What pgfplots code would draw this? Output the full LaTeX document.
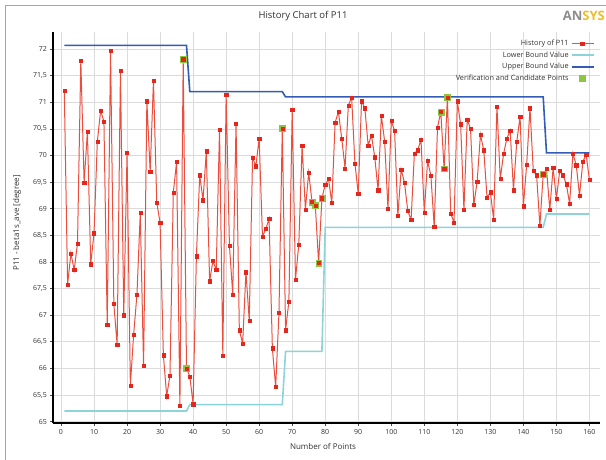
\documentclass[border=0pt]{standalone}
\usepackage{fontspec}
\setmainfont{Open Sans}
\usepackage{pgfplots}
\pgfplotsset{compat=1.18}
\pgfplotsset{
  widelegend/.style={legend image code/.code={\draw[mark repeat=2,mark phase=2,##1] plot coordinates {(0pt,0pt) (11pt,0pt) (22pt,0pt)};}},
  marklegend/.style={legend image code/.code={\draw[##1] plot coordinates {(11pt,0pt)};}},
}
\definecolor{histline}{RGB}{236,78,62}
\definecolor{histmark}{RGB}{228,38,28}
\definecolor{lowb}{RGB}{140,212,218}
\definecolor{upb}{RGB}{52,92,182}
\definecolor{candg}{RGB}{140,198,63}
\definecolor{txt}{RGB}{50,50,50}
\definecolor{logoy}{RGB}{238,190,40}
\pgfplotstableread{
n v
1 71.22
2 67.58
3 68.16
4 67.85
5 68.35
6 71.78
7 69.49
8 70.45
9 67.96
10 68.54
11 70.26
12 70.84
13 70.64
14 66.82
15 71.97
16 67.21
17 66.44
18 71.59
19 67.00
20 70.05
21 65.68
22 66.64
23 67.39
24 68.92
25 66.05
26 71.02
27 69.70
28 71.40
29 69.11
30 68.74
31 66.25
32 65.48
33 65.87
34 69.30
35 69.88
36 65.30
37 71.81
38 66.00
39 65.85
40 65.33
41 68.11
42 69.63
43 69.16
44 70.08
45 67.64
46 68.02
47 67.85
48 70.49
49 66.24
50 71.15
51 68.31
52 67.39
53 70.60
54 66.72
55 66.47
56 67.81
57 66.90
58 69.96
59 69.80
60 70.32
61 68.48
62 68.62
63 68.81
64 66.38
65 65.65
66 67.05
67 70.51
68 66.72
69 67.26
70 70.86
71 67.67
72 68.33
73 70.18
74 68.99
75 69.68
76 69.13
77 69.06
78 67.98
79 69.20
80 69.45
81 69.56
82 69.11
83 70.62
84 70.82
85 70.32
86 69.76
87 70.94
88 71.09
89 69.85
90 69.28
91 71.02
92 70.89
93 70.19
94 70.38
95 69.97
96 69.35
97 70.75
98 70.26
99 69.00
100 70.65
101 70.47
102 68.87
103 69.74
104 69.49
105 68.96
106 68.79
107 70.04
108 70.10
109 70.30
110 68.93
111 69.90
112 69.62
113 68.66
114 70.53
115 70.82
116 69.75
117 71.09
118 68.91
119 68.74
120 71.02
121 70.59
122 68.98
123 70.68
124 70.50
125 69.07
126 69.51
127 70.39
128 70.10
129 69.21
130 69.31
131 68.80
132 70.92
133 69.56
134 70.03
135 70.32
136 70.47
137 69.35
138 70.26
139 70.73
140 69.05
141 69.83
142 70.89
143 69.71
144 69.63
145 68.68
146 69.65
147 69.75
148 68.98
149 69.77
150 69.19
151 69.71
152 69.63
153 69.46
154 69.10
155 70.04
156 69.82
157 69.25
158 69.88
159 70.02
160 69.54
}\histdata
\pgfplotstableread{
n v
37 71.81
38 66.00
67 70.51
76 69.13
77 69.06
78 67.98
79 69.20
115 70.82
116 69.75
117 71.09
146 69.65
}\canddata
\pgfplotstableread{
n v
1 65.2
38 65.2
39 65.32
67 65.32
68 66.32
79 66.32
80 68.65
146 68.65
147 68.9
160 68.9
}\lowdata
\pgfplotstableread{
n v
1 72.07
38 72.07
39 71.2
67 71.2
68 71.1
146 71.1
147 70.05
160 70.05
}\updata
\begin{document}
\begin{tikzpicture}[x=1pt,y=1pt]
\useasboundingbox (0,0) rectangle (606,459);
\fill[white] (0,0) rectangle (606,459);
\draw[black!35, line width=0.8pt] (5,-20) -- (5,453.5) -- (640,453.5);
\begin{axis}[
  at={(53.3pt,36.3pt)}, anchor=south west,
  scale only axis, width=546.7pt, height=390.7pt,
  xmin=-2.33, xmax=163.2, ymin=64.98, ymax=72.32,
  axis x line*=bottom, axis y line*=left,
  axis line style={black, line width=1.6pt, -},
  xtick={0,10,...,160},
  ytick={65,65.5,...,72},
  grid=major,
  major grid style={black!14, line width=0.7pt},
  tick align=outside, major tick length=3pt,
  tick style={black!70, line width=0.6pt},
  /pgf/number format/use comma,
  /pgf/number format/assume math mode=true,
  /pgf/number format/1000 sep={},
  tick label style={font=\fontsize{7}{8}\selectfont, text=txt},
  legend plot pos=right,
  legend cell align=right,
  legend style={at={(0.992,0.987)}, anchor=north east, draw=none, fill=none,
    font=\fontsize{7.3}{8}\selectfont, text=txt, row sep=0.4pt, inner sep=1pt},
]
\addplot[lowb, line width=1.6pt, forget plot] table[x=n,y=v] {\lowdata};
\addplot[upb, line width=1.6pt, forget plot] table[x=n,y=v] {\updata};
\addplot[only marks, mark=square*, mark size=2.9pt, candg, mark options={draw=candg, fill=candg}, forget plot] table[x=n,y=v] {\canddata};
\addplot[histline, line width=1.0pt, mark=square*, mark size=1.6pt, mark options={draw=histmark, fill=histmark, line width=0.3pt}, forget plot] table[x=n,y=v] {\histdata};
\addlegendimage{widelegend, histline, line width=1.3pt, mark=square*, mark size=1.6pt, mark options={draw=histmark, fill=histmark}}
\addlegendentry{History of P11}
\addlegendimage{widelegend, lowb, line width=1.8pt}
\addlegendentry{Lower Bound Value}
\addlegendimage{widelegend, upb, line width=1.8pt}
\addlegendentry{Upper Bound Value}
\addlegendimage{marklegend, only marks, mark=square*, mark size=2.9pt, candg, mark options={draw=candg, fill=candg}}
\addlegendentry{Verification and Candidate Points}
\end{axis}
\node[font=\fontsize{9.5}{10}\selectfont, text=txt] at (303,443) {History Chart of P11};
\node[font=\fontsize{8}{9}\selectfont, text=txt] at (323,13) {Number of Points};
\node[font=\fontsize{8}{9}\selectfont, text=txt, rotate=90] at (17,236) {P11 - beta1s\_ave [degree]};
\node[anchor=east, font=\fontsize{13}{14}\selectfont\bfseries, inner sep=0pt] at (605,443.5) {\textcolor{black!45}{AN}\textcolor{logoy}{SYS}};
\end{tikzpicture}
\end{document}
